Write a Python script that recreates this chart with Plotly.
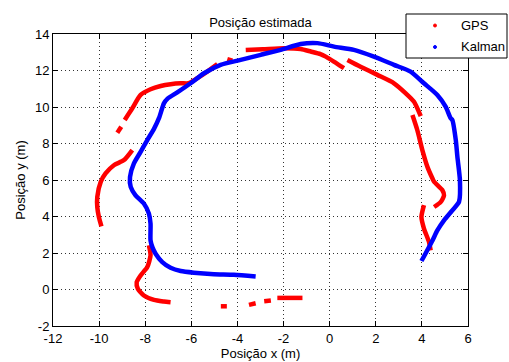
import plotly.graph_objects as go

# GPS fixes (m); None separates the gaps between recorded stretches
gps_x = [-9.21, -9.04, None,
         -8.89, -8.56, -8.20, -7.77, -7.33, -6.90, -6.46, -6.12, -5.74, -5.31, -4.87, None,
         -4.44, -4.22, None,
         -3.64, -2.90, -1.98, -1.26, -0.82, -0.40, -0.17, 0.18, 0.62, None,
         0.77, 1.34, 2.07, 2.79, 3.30, 3.66, 3.95, None,
         3.59, 3.80, 4.02, 4.24, 4.46, 4.53, 4.89, 4.96, 4.82, 4.53, None,
         4.09, 3.98, 4.09, 4.31, 4.38, None,
         -8.56, -8.92, -9.36, -9.72, -9.93, -10.08, -10.08, -10.01, -9.90, None,
         -7.84, -7.77, -7.91, -8.20, -8.37, -8.32, -8.06, -7.62, -7.19, -6.90, None,
         -4.72, -4.46, None,
         -3.50, -3.21, None,
         -2.84, -2.55, None,
         -2.27, -1.18]
gps_y = [8.59, 8.92, None,
         9.29, 9.93, 10.66, 10.97, 11.15, 11.25, 11.30, 11.30, 11.58, 11.94, 12.35, None,
         12.62, 12.54, None,
         13.12, 13.16, 13.22, 13.18, 13.04, 12.90, 12.76, 12.49, 12.13, None,
         12.58, 12.21, 11.76, 11.30, 10.75, 10.29, 9.50, None,
         9.56, 8.74, 7.64, 6.72, 6.08, 5.90, 5.44, 5.16, 4.80, 4.52, None,
         4.62, 3.97, 3.34, 2.60, 2.14, None,
         7.64, 7.09, 6.81, 6.36, 5.90, 5.07, 4.52, 3.97, 3.46, None,
         2.42, 1.87, 1.23, 0.77, 0.40, 0.04, -0.33, -0.57, -0.66, -0.70, None,
         -0.92, -0.92, None,
         -0.84, -0.75, None,
         -0.64, -0.60, None,
         -0.46, -0.46]

# Kalman filter estimate (m)
kal_x = [-3.21, -4.15, -5.02, -5.89, -6.46, -6.90, -7.26, -7.55, -7.69, -7.77,
         -7.77, -7.84, -8.06, -8.42, -8.63, -8.66, -8.49, -8.20, -7.91, -7.62,
         -7.40, -7.19, -7.04, -6.61, -6.03, -5.45, -4.73, -3.86, -2.99, -2.13,
         -1.26, -0.53, 0.19, 1.05, 1.92, 2.79, 3.51, 4.09, 4.67, 5.03,
         5.25, 5.32, 5.47, 5.54, 5.65, 5.61, 5.32, 4.96, 4.67, 4.46, 3.98]
kal_y = [0.71, 0.81, 0.84, 0.92, 1.01, 1.19, 1.50, 1.96, 2.32, 2.69,
         3.61, 4.16, 4.71, 5.16, 5.62, 6.17, 6.91, 7.54, 8.19, 8.80,
         9.40, 10.20, 10.45, 10.80, 11.30, 11.85, 12.31, 12.58, 12.86, 13.13,
         13.45, 13.50, 13.31, 13.13, 12.76, 12.31, 11.94, 11.30, 10.66, 10.02,
         9.38, 9.29, 8.19, 7.27, 5.99, 4.80, 4.34, 3.79, 3.24, 2.69, 1.56]

x_ticks = [-12, -10, -8, -6, -4, -2, 0, 2, 4, 6]
y_ticks = [-2, 0, 2, 4, 6, 8, 10, 12, 14]
legend_names = ["GPS", "Kalman"]

RED = "#ff0000"
BLUE = "#0000ff"
FONT = "Liberation Sans, Arial, sans-serif"

W, H = 509, 362
ML, MR, MT, MB = 53, 41, 34, 36
PW, PH = W - ML - MR, H - MT - MB


def px(xp):
    return (xp - ML) / PW


def py(yp):
    return (H - MB - yp) / PH


fig = go.Figure()

# dense fixes drawn as thick traces
fig.add_trace(go.Scatter(x=gps_x, y=gps_y, mode="lines", connectgaps=False,
                         line=dict(color=RED, width=4.5, shape="spline", smoothing=0.6),
                         showlegend=False, name=legend_names[0]))
fig.add_trace(go.Scatter(x=kal_x, y=kal_y, mode="lines",
                         line=dict(color=BLUE, width=4.5, shape="spline", smoothing=0.6),
                         showlegend=False, name=legend_names[1]))

axis_common = dict(
    showline=True, linecolor="black", linewidth=1, mirror="ticks",
    ticks="inside", ticklen=5, tickcolor="black",
    showgrid=True, gridcolor="#333333", griddash="1px,3px", gridwidth=1,
    zeroline=False, automargin=False,
    tickfont=dict(family=FONT, size=13, color="black"),
)

# legend box drawn in paper space, partly outside the axes
shapes = [dict(type="rect", xref="paper", yref="paper",
               x0=px(406), x1=px(507), y0=py(14), y1=py(58),
               line=dict(color="black", width=1), fillcolor="white", layer="above")]
annotations = []
for name, color, yc in zip(legend_names, [RED, BLUE], [25.5, 47]):
    shapes.append(dict(type="circle", xref="paper", yref="paper",
                       x0=px(433.5), x1=px(436.5), y0=py(yc - 1.5), y1=py(yc + 1.5),
                       line=dict(color=color, width=1), fillcolor=color, layer="above"))
    annotations.append(dict(text=name, xref="paper", yref="paper",
                            x=px(459), y=py(yc), xanchor="left", yanchor="middle",
                            showarrow=False,
                            font=dict(family=FONT, size=13, color="black")))

fig.update_layout(
    width=W, height=H,
    margin=dict(l=ML, r=MR, t=MT, b=MB, autoexpand=False),
    paper_bgcolor="white", plot_bgcolor="white",
    font=dict(family=FONT, size=13, color="black"),
    showlegend=False,
    title=dict(text="Posição estimada", x=0.5, xanchor="center",
               xref="paper", y=1 - 22 / H, yanchor="middle",
               font=dict(family=FONT, size=13, color="black")),
    xaxis=dict(range=[-12, 6], tickvals=x_ticks, ticktext=[str(v) for v in x_ticks],
               title=dict(text="Posição x (m)", standoff=2,
                          font=dict(family=FONT, size=13, color="black")),
               **axis_common),
    yaxis=dict(range=[-2, 14], tickvals=y_ticks, ticktext=[str(v) for v in y_ticks],
               title=dict(text="Posição y (m)", standoff=6,
                          font=dict(family=FONT, size=13, color="black")),
               **axis_common),
    shapes=shapes,
    annotations=annotations,
)

fig.write_html("out.html")
